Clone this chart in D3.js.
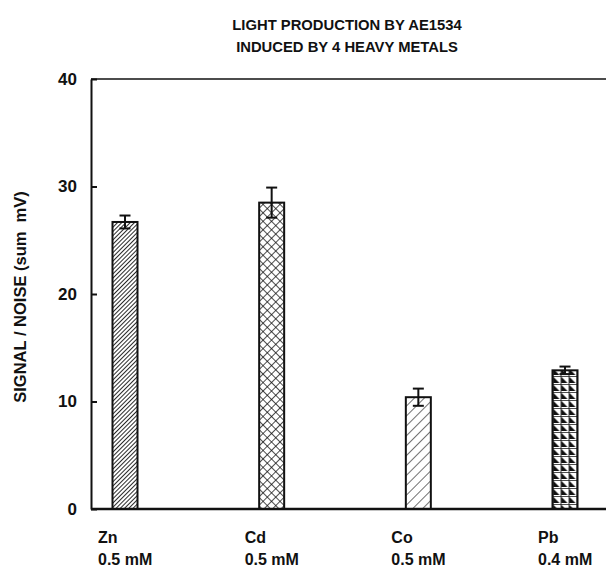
<!DOCTYPE html>
<html>
<head>
<meta charset="utf-8">
<script src="https://cdn.jsdelivr.net/npm/d3@7"></script>
<style>
  body { margin: 0; background: #fff; }
  text { font-family: "Liberation Sans", Arial, sans-serif; font-weight: bold; fill: #111; }
</style>
</head>
<body>
<svg id="chart" width="606" height="571"></svg>
<script>
// data
var metals = ["Zn", "Cd", "Co", "Pb"];
var doses = ["0.5 mM", "0.5 mM", "0.5 mM", "0.4 mM"];
var signal = [26.7, 28.5, 10.4, 12.9];
var errs = [0.6, 1.4, 0.8, 0.35];
var patterns = ["fineHatch", "crossHatch", "wideHatch", "triGrid"];
var yTicks = [0, 10, 20, 30, 40];
var titleLines = ["LIGHT PRODUCTION BY AE1534", "INDUCED BY 4 HEAVY METALS"];

var svg = d3.select("#chart"),
   plotLeft = 91, plotRight = 606, plotTop = 79, plotBottom = 509,
   barW = 25;

var y = d3.scaleLinear().domain([0, 40]).range([plotBottom, plotTop]);
var x = d3.scalePoint().domain(metals).range([125, 565]);

// fill patterns
var defs = svg.append("defs");

var p = defs.append("pattern").attr("id", "fineHatch")
   .attr("patternUnits", "userSpaceOnUse").attr("width", 3).attr("height", 3)
   .attr("patternTransform", "rotate(45)");
p.append("rect").attr("width", 3).attr("height", 3).attr("fill", "#fff");
p.append("line").attr("x1", 0).attr("y1", 0).attr("x2", 0).attr("y2", 3)
   .attr("stroke", "#111").attr("stroke-width", 1.8);

p = defs.append("pattern").attr("id", "crossHatch")
   .attr("patternUnits", "userSpaceOnUse").attr("width", 6).attr("height", 6)
   .attr("patternTransform", "rotate(45)");
p.append("rect").attr("width", 6).attr("height", 6).attr("fill", "#fff");
p.append("line").attr("x1", 0).attr("y1", 0).attr("x2", 0).attr("y2", 6)
   .attr("stroke", "#111").attr("stroke-width", 1.5);
p.append("line").attr("x1", 0).attr("y1", 0).attr("x2", 6).attr("y2", 0)
   .attr("stroke", "#111").attr("stroke-width", 1.5);

p = defs.append("pattern").attr("id", "wideHatch")
   .attr("patternUnits", "userSpaceOnUse").attr("width", 7).attr("height", 7)
   .attr("patternTransform", "rotate(45)");
p.append("rect").attr("width", 7).attr("height", 7).attr("fill", "#fff");
p.append("line").attr("x1", 0).attr("y1", 0).attr("x2", 0).attr("y2", 7)
   .attr("stroke", "#111").attr("stroke-width", 1.2);

p = defs.append("pattern").attr("id", "triGrid")
   .attr("patternUnits", "userSpaceOnUse").attr("width", 8).attr("height", 8)
   .attr("x", x("Pb") - barW / 2);
p.append("rect").attr("width", 8).attr("height", 8).attr("fill", "#fff");
p.append("path").attr("d", "M1,1 L1,7 L7,7 Z").attr("fill", "#111");
p.append("path").attr("d", "M0,0 H8 M0,0 V8").attr("stroke", "#111").attr("stroke-width", 1.6);

// title
svg.append("g").selectAll("text").data(titleLines).enter().append("text")
   .attr("x", 347).attr("y", function (d, i) { return 30 + i * 22; })
   .attr("text-anchor", "middle").attr("font-size", 14.8)
   .text(function (d) { return d; });

// axis title
svg.append("text")
   .attr("transform", "translate(26," + 297 + ") rotate(-90)")
   .attr("text-anchor", "middle").attr("font-size", 16.5)
   .attr("xml:space", "preserve")
   .text("SIGNAL / NOISE (sum  mV)");

// y axis, ticks pointing inward
var yAxis = svg.append("g")
   .attr("transform", "translate(" + plotLeft + ",0)")
   .call(d3.axisLeft(y).tickValues(yTicks).tickSizeInner(-6).tickSizeOuter(0).tickPadding(14));
yAxis.select(".domain").attr("stroke", "#111").attr("stroke-width", 2);
yAxis.selectAll(".tick line").attr("stroke", "#111").attr("stroke-width", 2);
yAxis.selectAll(".tick text").attr("font-size", 17).attr("font-family", "Liberation Sans, Arial, sans-serif")
   .attr("font-weight", "bold").attr("fill", "#111");

// frame top
svg.append("line").attr("x1", plotLeft).attr("x2", plotRight).attr("y1", y(40)).attr("y2", y(40))
   .attr("stroke", "#111").attr("stroke-width", 1.5);

// bars
svg.append("g").selectAll("rect").data(metals).enter().append("rect")
   .attr("x", function (d) { return x(d) - barW / 2; })
   .attr("y", function (d, i) { return y(signal[i]); })
   .attr("width", barW)
   .attr("height", function (d, i) { return y(0) - y(signal[i]); })
   .attr("fill", function (d, i) { return "url(#" + patterns[i] + ")"; })
   .attr("stroke", "#111").attr("stroke-width", 2);

// frame bottom
svg.append("line").attr("x1", plotLeft).attr("x2", plotRight).attr("y1", y(0)).attr("y2", y(0))
   .attr("stroke", "#111").attr("stroke-width", 2.5);

// error bars
var eb = svg.append("g").selectAll("g").data(metals).enter().append("g")
   .attr("stroke", "#111").attr("stroke-width", 2);
eb.append("line")
   .attr("x1", function (d) { return x(d); }).attr("x2", function (d) { return x(d); })
   .attr("y1", function (d, i) { return y(signal[i] + errs[i]); })
   .attr("y2", function (d, i) { return y(signal[i] - errs[i]); });
eb.append("line")
   .attr("x1", function (d) { return x(d) - 5.5; }).attr("x2", function (d) { return x(d) + 5.5; })
   .attr("y1", function (d, i) { return y(signal[i] + errs[i]); })
   .attr("y2", function (d, i) { return y(signal[i] + errs[i]); });
eb.append("line")
   .attr("x1", function (d) { return x(d) - 5.5; }).attr("x2", function (d) { return x(d) + 5.5; })
   .attr("y1", function (d, i) { return y(signal[i] - errs[i]); })
   .attr("y2", function (d, i) { return y(signal[i] - errs[i]); });

// category labels
var lab = svg.append("g").selectAll("g").data(metals).enter().append("g")
   .attr("transform", function (d) { return "translate(" + (x(d) - 27) + ",0)"; });
lab.append("text").attr("y", 543).attr("font-size", 16).text(function (d) { return d; });
lab.append("text").attr("y", 565).attr("font-size", 16).text(function (d, i) { return doses[i]; });
</script>
</body>
</html>
